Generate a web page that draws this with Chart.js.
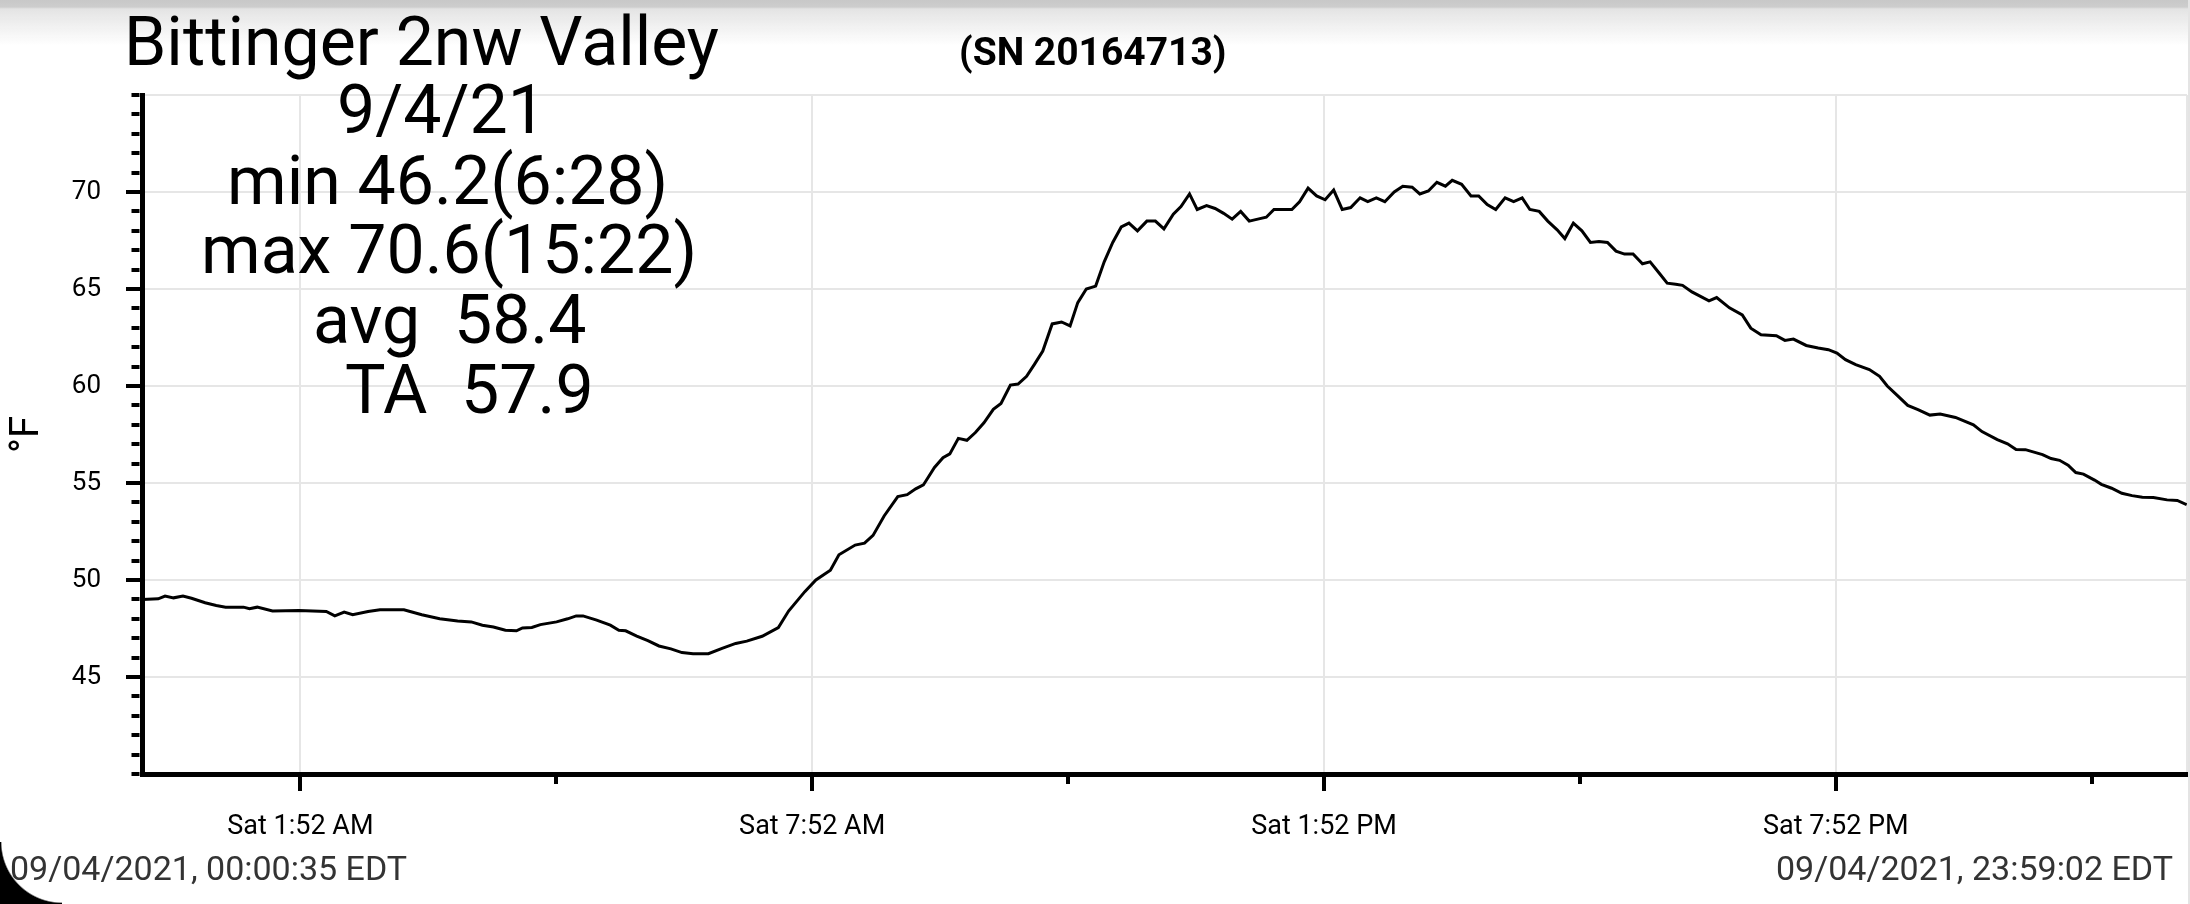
<!DOCTYPE html>
<html>
<head>
<meta charset="utf-8">
<title>Bittinger 2nw Valley 9/4/21</title>
<script src="https://cdn.jsdelivr.net/npm/chart.js@4.4.1/dist/chart.umd.min.js"></script>
<style>
  html, body { margin: 0; padding: 0; background: #fff; overflow: hidden; }
  #wrap { position: absolute; left: 0; top: 0; width: 2190px; height: 904px; }
  #overlay { position: absolute; left: 0; top: 0; width: 2190px; height: 904px; pointer-events: none; }
  #overlay text { font-family: Roboto, "Noto Sans", sans-serif; white-space: pre; }
  .topshade { position: absolute; left: 0; top: 0; width: 2190px; height: 46px;
    background: linear-gradient(to bottom, #c8c8c8 0px, #cdcdcd 7px, #e4e4e4 9px, rgba(255,255,255,0) 46px); pointer-events: none; }
  .rightedge { position: absolute; left: 2188px; top: 0; width: 2px; height: 904px; background: #e4e4e4; }
  .corner { position: absolute; left: 0; top: 842px; width: 62px; height: 62px;
    background: radial-gradient(circle at 100% 0, rgba(0,0,0,0) 60px, #000 61.5px); }
</style>
</head>
<body>
<div id="wrap"><canvas id="temp-chart"></canvas></div>
<div class="topshade"></div>
<div class="rightedge"></div>
<div class="corner"></div>
<svg id="overlay" width="2190" height="904" xmlns="http://www.w3.org/2000/svg">
  <text x="124" y="65" font-size="68" fill="#000">Bittinger 2nw Valley</text>
  <text x="959" y="65" font-size="39" font-weight="700" fill="#000">(SN 20164713)</text>
  <text x="337" y="133" font-size="68" fill="#000">9/4/21</text>
  <text x="227" y="204" font-size="68" fill="#000">min 46.2(6:28)</text>
  <text x="201" y="273" font-size="68" fill="#000">max 70.6(15:22)</text>
  <text x="313" y="343" font-size="68" fill="#000" xml:space="preserve">avg  58.4</text>
  <text x="345" y="413" font-size="68" fill="#000" xml:space="preserve">TA  57.9</text>
  <text x="10" y="880" font-size="34" fill="#333">09/04/2021, 00:00:35 EDT</text>
  <text x="2173" y="880" font-size="34" fill="#333" text-anchor="end">09/04/2021, 23:59:02 EDT</text>
</svg>

<script>
/*---------- Data -----------------------------------------*/
// hours since midnight, Sat 9/4/21
const hours = [
  0.01, 0.20, 0.28, 0.38, 0.49, 0.59, 0.75, 0.88, 0.99, 1.20,
  1.27, 1.36, 1.54, 1.85, 2.17, 2.27, 2.38, 2.48, 2.66, 2.80,
  3.08, 3.29, 3.50, 3.71, 3.87, 4.00, 4.13, 4.27, 4.40, 4.47,
  4.58, 4.68, 4.87, 5.00, 5.10, 5.18, 5.34, 5.50, 5.60, 5.68,
  5.81, 5.94, 6.07, 6.21, 6.34, 6.47, 6.65, 6.81, 6.97, 7.10,
  7.28, 7.47, 7.59, 7.78, 7.91, 8.08, 8.18, 8.37, 8.48, 8.58,
  8.71, 8.87, 8.98, 9.08, 9.17, 9.30, 9.40, 9.48, 9.58, 9.68,
  9.78, 9.88, 9.99, 10.08, 10.19, 10.28, 10.38, 10.47, 10.57, 10.68,
  10.79, 10.89, 10.98, 11.08, 11.19, 11.29, 11.39, 11.49, 11.58, 11.68,
  11.79, 11.89, 11.99, 12.10, 12.19, 12.29, 12.38, 12.49, 12.59, 12.69,
  12.79, 12.89, 12.99, 13.09, 13.19, 13.28, 13.38, 13.49, 13.58, 13.68,
  13.78, 13.88, 13.98, 14.08, 14.18, 14.29, 14.38, 14.48, 14.58, 14.69,
  14.79, 14.90, 14.99, 15.09, 15.19, 15.29, 15.37, 15.48, 15.59, 15.68,
  15.78, 15.88, 15.99, 16.09, 16.19, 16.28, 16.39, 16.49, 16.60, 16.69,
  16.79, 16.89, 16.99, 17.09, 17.19, 17.29, 17.39, 17.49, 17.60, 17.69,
  17.80, 17.89, 17.99, 18.07, 18.18, 18.38, 18.47, 18.62, 18.77, 18.87,
  18.99, 19.17, 19.27, 19.37, 19.52, 19.66, 19.78, 19.88, 19.98, 20.10,
  20.26, 20.38, 20.47, 20.59, 20.71, 20.83, 20.97, 21.09, 21.27, 21.48,
  21.58, 21.76, 21.88, 21.98, 22.09, 22.29, 22.39, 22.49, 22.59, 22.68,
  22.77, 22.90, 22.98, 23.10, 23.22, 23.34, 23.46, 23.59, 23.75, 23.87,
  23.98,
];

// temperature, °F
const tempF = [
  49.0, 49.03, 49.17, 49.08, 49.17, 49.06, 48.83, 48.69, 48.6, 48.6,
  48.52, 48.6, 48.4, 48.43, 48.38, 48.15, 48.35, 48.21, 48.38, 48.47,
  48.47, 48.21, 48.0, 47.89, 47.84, 47.67, 47.58, 47.41, 47.38, 47.53,
  47.55, 47.7, 47.84, 48.0, 48.15, 48.15, 47.93, 47.67, 47.41, 47.38,
  47.11, 46.87, 46.6, 46.45, 46.26, 46.2, 46.2, 46.48, 46.73, 46.85,
  47.1, 47.55, 48.4, 49.4, 50.0, 50.5, 51.3, 51.8, 51.9, 52.3,
  53.3, 54.3, 54.4, 54.7, 54.9, 55.8, 56.3, 56.5, 57.3, 57.2,
  57.6, 58.1, 58.8, 59.1, 60.05, 60.1, 60.5, 61.1, 61.8, 63.2,
  63.3, 63.1, 64.3, 65.0, 65.15, 66.4, 67.4, 68.2, 68.4, 68.0,
  68.5, 68.5, 68.1, 68.85, 69.25, 69.9, 69.1, 69.3, 69.15, 68.9,
  68.6, 69.0, 68.5, 68.6, 68.7, 69.1, 69.1, 69.1, 69.5, 70.2,
  69.8, 69.6, 70.1, 69.1, 69.2, 69.7, 69.5, 69.7, 69.5, 70.0,
  70.3, 70.25, 69.9, 70.05, 70.5, 70.3, 70.6, 70.4, 69.8, 69.8,
  69.35, 69.1, 69.7, 69.5, 69.7, 69.1, 69.0, 68.5, 68.05, 67.6,
  68.4, 68.0, 67.4, 67.45, 67.4, 66.95, 66.8, 66.8, 66.3, 66.4,
  65.8, 65.3, 65.25, 65.19, 64.85, 64.39, 64.56, 64.03, 63.66, 62.98,
  62.64, 62.59, 62.35, 62.42, 62.09, 61.96, 61.87, 61.70, 61.36, 61.1,
  60.85, 60.5, 60.0, 59.5, 59.0, 58.78, 58.5, 58.55, 58.38, 58.0,
  57.65, 57.24, 57.02, 56.73, 56.72, 56.46, 56.26, 56.17, 55.92, 55.54,
  55.46, 55.15, 54.93, 54.73, 54.47, 54.35, 54.27, 54.25, 54.13, 54.1,
  53.88,
];

// x axis: 00:00:35 to 23:59:02
const startHour = 35 / 3600;
const endHour = 23 + 59 / 60 + 2 / 3600;
const majorTickHours = [1 + 52 / 60, 7 + 52 / 60, 13 + 52 / 60, 19 + 52 / 60];
const majorTickLabels = ["Sat 1:52 AM", "Sat 7:52 AM", "Sat 1:52 PM", "Sat 7:52 PM"];
const minorTickHours = [4 + 52 / 60, 10 + 52 / 60, 16 + 52 / 60, 22 + 52 / 60];

// y axis
const yMin = 40;
const yMax = 75;
const yLabelValues = [45, 50, 55, 60, 65, 70];

/* ------------ Helpers -------------*/
const gridGray = "#e6e6e6";
const clear = "rgba(0,0,0,0)";
const near = (a, b) => Math.abs(a - b) < 1e-6;
const isMajorX = (v) => majorTickHours.some((h) => near(h, v));
const isEndX = (v) => near(v, endHour);
const isLabelY = (v) => yLabelValues.includes(v);

/* ------------ Chart data -------------*/
let tempData = {
  datasets: [
    {
      label: "°F",
      data: hours.map((h, i) => ({ x: h, y: tempF[i] })),
      borderColor: "#000",
      borderWidth: 3,
      pointRadius: 0,
      tension: 0,
      fill: false,
    },
  ],
};

let tempOptions = {
  responsive: true,
  maintainAspectRatio: false,
  animation: false,
  layout: {
    padding: { top: 95, right: 3, left: 0, bottom: 0 },
  },
  plugins: {
    legend: { display: false },
    tooltip: { enabled: false },
  },
  scales: {
    x: {
      type: "linear",
      min: startHour,
      max: endHour,
      afterBuildTicks: (scale) => {
        const all = majorTickHours.concat(minorTickHours).sort((a, b) => a - b);
        all.push(endHour);
        scale.ticks = all.map((v) => ({ value: v }));
      },
      afterFit: (scale) => {
        scale.height = 130;
        // no extra room for end labels, the plot runs to the edge
        scale.paddingLeft = 0;
        scale.paddingRight = 0;
      },
      border: { color: "#000", width: 5 },
      grid: {
        tickLength: 17,
        lineWidth: 2,
        tickWidth: 4,
        color: (ctx) => (isMajorX(ctx.tick.value) || isEndX(ctx.tick.value) ? gridGray : clear),
        tickColor: (ctx) => (isEndX(ctx.tick.value) ? clear : "#000"),
        tickBorderDash: (ctx) => (isMajorX(ctx.tick.value) ? [] : [7, 100]),
      },
      ticks: {
        autoSkip: false,
        maxRotation: 0,
        padding: 20,
        color: "#000",
        font: { family: "Roboto", size: 27 },
        callback: (value) => {
          const i = majorTickHours.findIndex((h) => near(h, value));
          return i >= 0 ? majorTickLabels[i] : "";
        },
      },
    },
    y: {
      min: yMin,
      max: yMax,
      afterBuildTicks: (scale) => {
        const list = [];
        for (let v = yMin; v <= yMax; v++) list.push({ value: v });
        scale.ticks = list;
      },
      afterFit: (scale) => {
        scale.width = 142;
        scale.paddingTop = 0;
        scale.paddingBottom = 0;
      },
      border: { color: "#000", width: 5 },
      grid: {
        tickLength: 16,
        lineWidth: 2,
        tickWidth: 4,
        color: (ctx) => (ctx.tick.value % 5 === 0 && ctx.tick.value > yMin ? gridGray : clear),
        tickColor: "#000",
        tickBorderDash: (ctx) => (isLabelY(ctx.tick.value) ? [] : [0, 5.5, 8, 100]),
      },
      ticks: {
        autoSkip: false,
        padding: 25,
        color: "#000",
        font: { family: "Roboto", size: 26 },
        callback: (value) => (isLabelY(value) ? String(value) : ""),
      },
      title: {
        display: true,
        text: "°F",
        color: "#000",
        font: { family: "Roboto", size: 40 },
        padding: { top: 4, bottom: 0 },
      },
    },
  },
};

/*-----------Create the line chart---------------*/
const tempCanvas = document.getElementById("temp-chart");
const tempChart = new Chart(tempCanvas, {
  type: "line",
  data: tempData,
  options: tempOptions,
});
</script>
</body>
</html>
